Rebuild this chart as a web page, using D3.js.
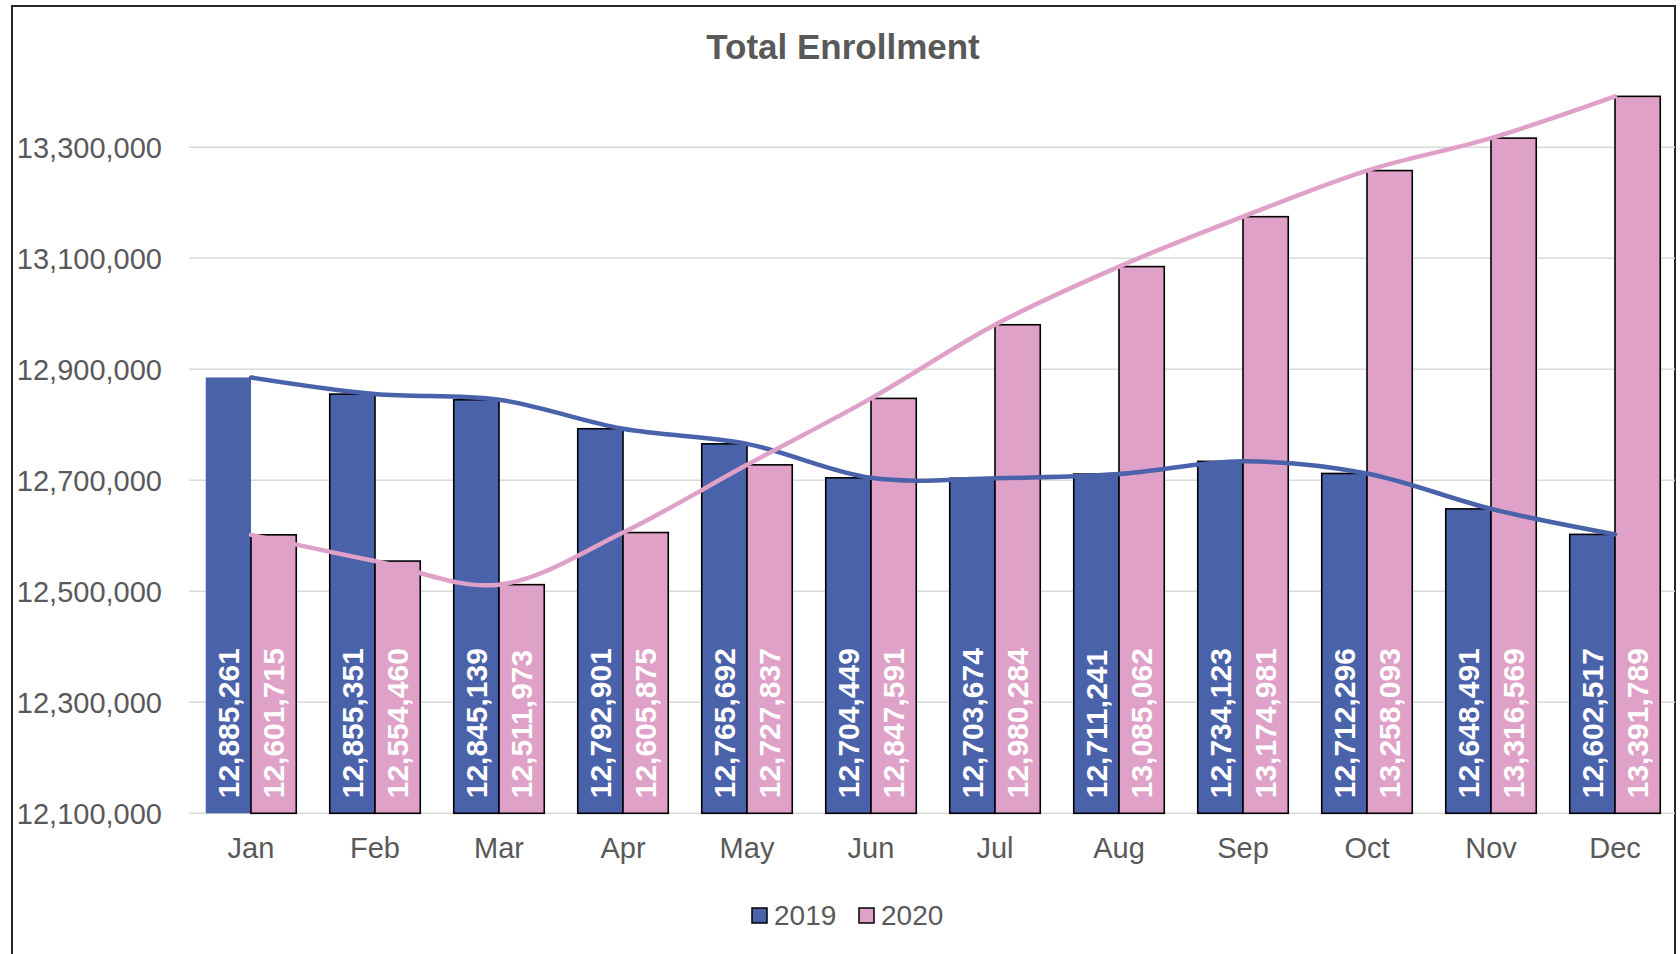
<!DOCTYPE html>
<html>
<head>
<meta charset="utf-8">
<script src="https://cdn.jsdelivr.net/npm/d3@7"></script>
<style>
  html, body { margin: 0; padding: 0; background: #fff; }
  svg { display: block; font-family: "Liberation Sans", Arial, sans-serif; }
</style>
</head>
<body>
<svg id="chart" width="1680" height="954"></svg>
<script>
const months = ["Jan","Feb","Mar","Apr","May","Jun","Jul","Aug","Sep","Oct","Nov","Dec"];
const seriesNames = ["2019", "2020"];
const values2019 = [12885261, 12855351, 12845139, 12792901, 12765692, 12704449, 12703674, 12711241, 12734123, 12712296, 12648491, 12602517];
const values2020 = [12601715, 12554460, 12511973, 12605875, 12727837, 12847591, 12980284, 13085062, 13174981, 13258093, 13316569, 13391789];
const yTicks = [12100000, 12300000, 12500000, 12700000, 12900000, 13100000, 13300000];
const title = "Total Enrollment";

const colors = { "2019": "#4A62AA", "2020": "#DFA1C7" };
const textGray = "#595959";

const svg = d3.select("#chart");

// chart border
svg.append("rect")
  .attr("x", 12).attr("y", 6).attr("width", 1663).attr("height", 960)
  .attr("fill", "#fff").attr("stroke", "#262626").attr("stroke-width", 2);

const plot = { left: 189, right: 1677, top: 91.8, bottom: 813.3 };

const x = d3.scaleBand().domain(months).range([plot.left, plot.right]).padding(0);
const y = d3.scaleLinear().domain([12100000, 13400000]).range([plot.bottom, plot.top]);
const barW = x.bandwidth() * 0.365;
const fmt = d3.format(",");

// gridlines
const clipW = 1675 - plot.left;
svg.append("g").selectAll("line").data(yTicks).join("line")
  .attr("x1", plot.left).attr("x2", plot.left + clipW)
  .attr("y1", d => y(d)).attr("y2", d => y(d))
  .attr("stroke", "#d9d9d9").attr("stroke-width", 1.5);

// y axis labels
svg.append("g").selectAll("text").data(yTicks).join("text")
  .attr("x", 162).attr("y", d => y(d) + 10.4)
  .attr("text-anchor", "end")
  .attr("font-size", 29).attr("fill", textGray)
  .text(d => fmt(d));

// x axis labels
svg.append("g").selectAll("text").data(months).join("text")
  .attr("x", d => x(d) + x.bandwidth() / 2).attr("y", 858)
  .attr("text-anchor", "middle")
  .attr("font-size", 29).attr("fill", textGray)
  .text(d => d);

const data = months.map((m, i) => ({ m, i, v2019: values2019[i], v2020: values2020[i] }));
const cx = d => x(d.m) + x.bandwidth() / 2;

// bars
const gBars = svg.append("g");
gBars.selectAll("rect.b19").data(data).join("rect")
  .attr("class", "b19")
  .attr("x", d => cx(d) - barW).attr("width", barW)
  .attr("y", d => y(d.v2019)).attr("height", d => plot.bottom - y(d.v2019))
  .attr("fill", colors["2019"])
  .attr("stroke", d => d.i === 0 ? "none" : "#000").attr("stroke-width", 1.6);
gBars.selectAll("rect.b20").data(data).join("rect")
  .attr("class", "b20")
  .attr("x", d => cx(d)).attr("width", barW)
  .attr("y", d => y(d.v2020)).attr("height", d => plot.bottom - y(d.v2020))
  .attr("fill", colors["2020"])
  .attr("stroke", "#000").attr("stroke-width", 1.6);

// data labels (rotated, inside base)
const gLab = svg.append("g");
function addLabels(key, offset) {
  gLab.selectAll("text." + key).data(data).join("text")
    .attr("class", key)
    .attr("transform", d => `translate(${cx(d) + offset},${plot.bottom - 15}) rotate(-90)`)
    .attr("dy", "0.36em")
    .attr("text-anchor", "start")
    .attr("font-size", 30).attr("font-weight", "bold").attr("fill", "#fff")
    .text(d => fmt(d[key]));
}
addLabels("v2019", -barW / 2);
addLabels("v2020", barW / 2);

// smoothed lines
const line = key => d3.line().x(cx).y(d => y(d[key])).curve(d3.curveCardinal.tension(0));
svg.append("path").datum(data).attr("d", line("v2019"))
  .attr("fill", "none").attr("stroke", colors["2019"]).attr("stroke-width", 4.5).attr("stroke-linecap", "round");
svg.append("path").datum(data).attr("d", line("v2020"))
  .attr("fill", "none").attr("stroke", colors["2020"]).attr("stroke-width", 4.5).attr("stroke-linecap", "round");

// title
svg.append("text").attr("x", 843).attr("y", 59)
  .attr("text-anchor", "middle").attr("font-size", 35).attr("font-weight", "bold")
  .attr("fill", textGray).text(title);

// legend
const legendX = [752, 859];
const legend = svg.append("g").selectAll("g").data(seriesNames).join("g")
  .attr("transform", (d, i) => `translate(${legendX[i]},908)`);
legend.append("rect").attr("width", 15).attr("height", 15)
  .attr("fill", d => colors[d]).attr("stroke", "#000").attr("stroke-width", 1.5);
legend.append("text").attr("x", 22).attr("y", 17)
  .attr("font-size", 28).attr("fill", textGray).text(d => d);
</script>
</body>
</html>
